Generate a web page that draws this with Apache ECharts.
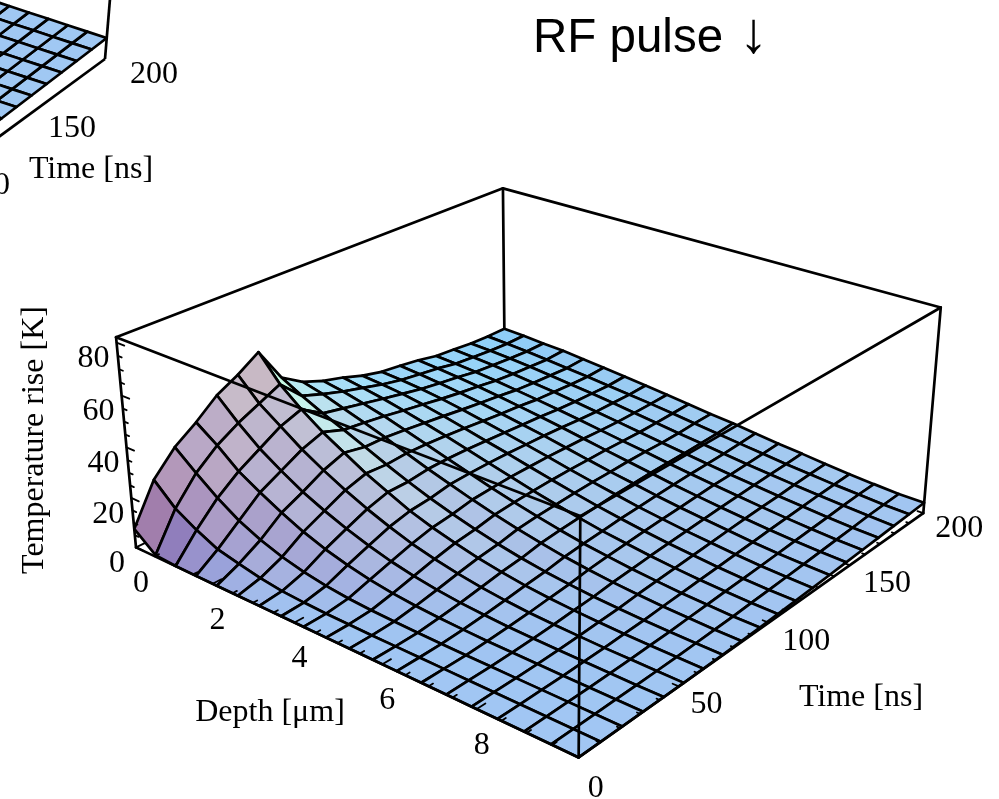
<!DOCTYPE html>
<html><head><meta charset="utf-8">
<style>html,body{margin:0;padding:0;background:#fff}#c{width:999px;height:799px}</style>
<script src="https://cdn.jsdelivr.net/npm/echarts@6/dist/echarts.min.js"></script>
</head><body><div id="c"></div>
<script>
// ---- data ----
const depthMax = 10, timeMax = 200, tempMax = 82;
const depthTicks = [0, 2, 4, 6, 8];
const timeTicks = [0, 50, 100, 150, 200];
const tempTicks = [0, 20, 40, 60, 80];
// rows: time steps (0..200 ns, 19 cells); columns: depth steps (0..10 um, 19 cells)
const temperature = [
 [7.5,.6,.1,0,0,0,0,0,0,0,0,0,0,0,0,0,0,0,0,0],
 [23,15,10,6,4,2.2,1,.5,.2,.1,0,0,0,0,0,0,0,0,0,0],
 [32,25,18.5,13,9,6,3.8,2.3,1.3,.7,.4,.2,.1,0,0,0,0,0,0,0],
 [38,32,25,20,15.5,11.5,8.3,5.8,3.9,2.5,1.6,1,.6,.3,.2,.1,0,0,0,0],
 [45,37,30,24.5,19.5,15.5,12,9,6.5,4.6,3.1,2,1.3,.8,.5,.3,.2,.1,0,0],
 [49.5,41,35,29,24,19.5,15.5,12,9,6.7,4.8,3.3,2.2,1.4,.9,.6,.3,.2,.1,0],
 [55,45,38,32,27,22,18,14,11,8.5,6.3,4.6,3.2,2.2,1.5,1,.6,.4,.2,.1],
 [41,36.5,32.5,29,25.3,21.5,18,14.8,12,9.5,7.3,5.5,4,2.9,2,1.4,.9,.6,.4,.2],
 [35.5,33.5,30.7,28,25.2,22,19,16.2,13.5,11.1,8.9,7,5.3,4,2.9,2.1,1.4,1,.6,.4],
 [32.2,30.8,28.9,26.8,24.3,21.7,19.1,16.5,14,11.7,9.6,7.7,6,4.7,3.5,2.6,1.8,1.3,.8,.6],
 [29.9,28.6,27.1,25.3,23.3,21.2,18.9,16.6,14.4,12.1,10.1,8.3,6.6,5.3,4.1,3.1,2.3,1.7,1.2,.9],
 [27,26.3,25.4,24,22.3,20.4,18.4,16.5,14.4,12.4,10.5,8.7,7.2,5.8,4.6,3.6,2.7,2,1.5,1.2],
 [25,24.5,23.7,22.6,21.2,19.6,17.9,16.2,14.4,12.5,10.8,9.2,7.6,6.3,5.1,4.1,3.2,2.4,1.9,1.5],
 [24,23.3,22.5,21.4,20.2,18.8,17.3,15.9,14.2,12.5,10.9,9.5,8,6.7,5.6,4.6,3.6,2.8,2.3,1.9],
 [22.8,22.2,21.4,20.4,19.3,18.1,16.8,15.5,14,12.5,11.1,9.7,8.3,7.1,6,5,4.1,3.3,2.7,2.3],
 [21.1,20.6,20,19.2,18.2,17.2,16.1,14.9,13.6,12.3,11.1,9.8,8.6,7.5,6.4,5.4,4.5,3.7,3.1,2.7],
 [20.4,19.9,19.3,18.5,17.6,16.7,15.6,14.5,13.3,12.1,10.9,9.8,8.7,7.6,6.7,5.7,4.9,4.1,3.5,3.1],
 [19.6,19.2,18.7,18,17.2,16.3,15.4,14.4,13.3,12.2,11,10,8.9,7.9,7,6.1,5.3,4.6,4,3.5],
 [19.3,18.9,18.3,17.6,16.8,16,15.1,14.3,13.4,12.4,11.3,10.2,9.2,8.2,7.2,6.4,5.5,4.9,4.2,3.9],
 [19.3,19,18.4,18,17.2,16.4,15.5,14.6,13.6,12.6,11.5,10.7,9.6,8.5,7.6,6.6,5.7,5,4.4,4.3]
];
// visible corner of the neighbouring (cropped) plot: last time rows, deepest columns
const cropTemperature = [
 [8.4,8.2,8,7.8,7.6,7.4,7.2],
 [8.2,8,7.8,7.6,7.4,7.2,7],
 [8,7.8,7.6,7.4,7.2,7,6.8],
 [7.8,7.6,7.4,7.2,7,6.8,6.6],
 [7.6,7.4,7.2,7,6.8,6.6,6.4],
 [7.4,7.2,7,6.8,6.6,6.4,6.2],
 [7.2,7,6.8,6.6,6.4,6.2,6],
 [7,6.8,6.6,6.4,6.2,6,5.8],
 [6.8,6.6,6.4,6.2,6,5.8,5.6],
 [6.6,6.4,6.2,6,5.8,5.6,5.4]
];
const timeLabelNudgeX = [0, 6, 11, 6, 0];
const timeLabelNudgeY = [0, -9, -5, -1, 0];
const tempLabelNudgeX = [4, 0, 0, 0, 0];

// ---- camera: perspective matrix fitted to where the box corners fall ----
const mainCamera = [
 [0,0,0,136,547],[1,0,0,579,758],[1,1,0,923,513],
 [0,0,1,116,338],[1,0,1,580,515],[1,1,1,941,308],[0,1,1,503,188]
];
const cropCamera = [
 [0,0,0,-550,137],[1,0,0,-180,268],[1,1,0,105,59],[0,1,0,-265,-72],
 [0,0,1,-533,-68],[1,0,1,-163,63],[1,1,1,122,-146],[0,1,1,-248,-277]
];
function fitCamera(pts){
  const n=11, A=Array.from({length:n},()=>new Array(n+1).fill(0));
  const add=(r,b)=>{for(let i=0;i<n;i++){for(let j=0;j<n;j++)A[i][j]+=r[i]*r[j];A[i][n]+=r[i]*b;}};
  pts.forEach(([X,Y,Z,x0,y0])=>{const x=x0/1000,y=y0/1000;
    add([X,Y,Z,1,0,0,0,0,-x*X,-x*Y,-x*Z],x);
    add([0,0,0,0,X,Y,Z,1,-y*X,-y*Y,-y*Z],y);});
  for(let c=0;c<n;c++){let p=c;for(let r=c+1;r<n;r++)if(Math.abs(A[r][c])>Math.abs(A[p][c]))p=r;
    [A[c],A[p]]=[A[p],A[c]];
    for(let r=0;r<n;r++)if(r!==c){const f=A[r][c]/A[c][c];for(let k=c;k<=n;k++)A[r][k]-=f*A[c][k];}}
  const m=A.map((row,i)=>row[n]/row[i]);
  return (X,Y,Z)=>{const w=m[8]*X+m[9]*Y+m[10]*Z+1;
    return [1000*(m[0]*X+m[1]*Y+m[2]*Z+m[3])/w,1000*(m[4]*X+m[5]*Y+m[6]*Z+m[7])/w];};
}
const projMain=fitCamera(mainCamera), projCrop=fitCamera(cropCamera);
const P=(d,t,T)=>projMain(d/depthMax,t/timeMax,T/tempMax);
const cols=temperature[0].length, rows=temperature.length;
const dAt=j=>j*depthMax/(cols-1), tAt=i=>i*timeMax/(rows-1);

// ---- Mathematica-style three coloured lights, in viewer coordinates ----
const azim=38*Math.PI/180, elev=63*Math.PI/180, slopeScale=0.26, slopeSoft=0.75;
function shade(nd,nt,nz,w){
  const L=Math.hypot(nd,nt,nz);nd/=L;nt/=L;nz/=L;
  const R=nd*Math.cos(azim)+nt*Math.sin(azim), H=nd*Math.sin(azim)-nt*Math.cos(azim);
  const x=R, y=nz*Math.cos(elev)-H*Math.sin(elev), z=nz*Math.sin(elev)+H*Math.cos(elev);
  const c=v=>Math.round(Math.max(0,Math.min(255,v)));
  return `rgb(${c(255*(x+z)/Math.SQRT2-24*w)},${c(255*(x+y+z)/Math.sqrt(3)+6*w)},${c(255*(y+z)/Math.SQRT2+6*w)})`;
}
function cellColor(tbl,i,j){
  const a=tbl[i][j],b=tbl[i][j+1],c=tbl[i+1][j+1],e=tbl[i+1][j];
  let dd=((b-a)+(c-e))/2*(cols-1)/tempMax*slopeScale;
  let dt=((e-a)+(c-b))/2*(rows-1)/tempMax*slopeScale;
  const soft=1+slopeSoft*Math.hypot(dd,dt);dd/=soft;dt/=soft;
  return shade(-dd,-dt,1,(1-j/(cols-1))*(i/(rows-1)));
}

// ---- draw lists ----
const surfaceCells=[];
for(let i=rows-2;i>=0;i--)for(let j=0;j<cols-1;j++)surfaceCells.push([i,j]);
const cropCells=[];
for(let i=0;i<cropTemperature.length-1;i++)for(let j=0;j<cropTemperature[0].length-1;j++)cropCells.push([i,j]);

const C={D:depthMax,T:timeMax,Z:tempMax};
const backEdges=[
 [[0,0,C.Z],[0,C.T,C.Z]],[[0,C.T,C.Z],[C.D,C.T,C.Z]],[[0,C.T,C.Z],[0,C.T,0]],
 [[0,0,0],[0,0,C.Z]],[[C.D,C.T,0],[C.D,C.T,C.Z]]
];
const frontEdges=[
 [[0,0,C.Z],[C.D,0,C.Z]],[[C.D,0,C.Z],[C.D,C.T,C.Z]],[[C.D,0,C.Z],[C.D,0,0]],
 [[0,0,0],[C.D,0,0]],[[C.D,0,0],[C.D,C.T,0]]
];
const tickSegs=[];
for(let d=0;d<=depthMax;d+=.5){const big=d%2===0;tickSegs.push([[d,0,0],[d,big?4:2,0]]);}
for(let t=0;t<=timeMax;t+=10){const big=t%50===0;tickSegs.push([[C.D,t,0],[C.D-(big?.12:.06),t,0]]);}
for(let z=0;z<=80;z+=5){const big=z%20===0;tickSegs.push([[0,0,z],[big?.2:.1,0,z]]);}

const serif='"Liberation Serif"';
const textItems=[];
depthTicks.forEach(d=>{const p=P(d,0,0);textItems.push([String(d),p[0]+5,p[1]+35,0]);});
timeTicks.forEach((t,k)=>{const p=P(depthMax,t,0);textItems.push([String(t),p[0]+17+19*t/200+timeLabelNudgeX[k],p[1]+30-16*t/200+timeLabelNudgeY[k],0]);});
tempTicks.forEach((z,k)=>{const p=P(0,0,z);textItems.push([String(z),p[0]-23+tempLabelNudgeX[k],p[1]+15,0]);});
textItems.push(['Depth [\u03bcm]',270,711,0],['Time [ns]',861,696,0],['Temperature rise [K]',35,440,Math.PI/2]);
textItems.push(['200',154,73,0],['150',72,127,0],['Time [ns]',91,168,0],['0',2,184,0]);

function lineSeries(name,segs,z,width){
  return {type:'custom',name,silent:true,z,clip:false,coordinateSystem:'cartesian2d',data:segs.map((s,i)=>[i]),
    renderItem:(p,api)=>{const s=segs[api.value(0)];
      return {type:'line',shape:{x1:api.coord(P(...s[0]))[0],y1:api.coord(P(...s[0]))[1],x2:api.coord(P(...s[1]))[0],y2:api.coord(P(...s[1]))[1]},
        style:{stroke:'#000',lineWidth:width,lineCap:'round'}};}};
}
const option={
  animation:false,
  title:{text:'{t|RF pulse }{a|\u2193}',left:533,top:7,padding:0,
    textStyle:{rich:{t:{fontFamily:'"Liberation Sans"',fontWeight:'normal',fontSize:47.5,color:'#000'},a:{fontFamily:'"Liberation Sans"',fontWeight:'normal',fontSize:58,color:'#000',padding:[0,0,6,3]}}}},
  grid:{left:0,right:0,top:0,bottom:0},
  xAxis:{type:'value',min:0,max:999,show:false},
  yAxis:{type:'value',min:0,max:799,inverse:true,show:false},
  series:[
    {type:'custom',name:'Neighbouring plot',silent:true,z:1,clip:true,data:cropCells,
     renderItem:(p,api)=>{const i=api.value(0),j=api.value(1);
       const Q=(a,b)=>api.coord(projCrop(1-b/19,1-a/19,cropTemperature[a][b]/tempMax));
       return {type:'polygon',shape:{points:[Q(i,j),Q(i,j+1),Q(i+1,j+1),Q(i+1,j)]},
         style:{fill:'rgb(160,200,243)',stroke:'#000',lineWidth:2.7,lineJoin:'round'}};}},
    {type:'custom',name:'Neighbouring box',silent:true,z:2,clip:true,data:[[0],[1]],
     renderItem:(p,api)=>{const k=api.value(0);
       const a=api.coord(projCrop(1,1,0)), b=k?api.coord(projCrop(1,1,1)):api.coord(projCrop(1,0,0));
       return {type:'line',shape:{x1:a[0],y1:a[1],x2:b[0],y2:b[1]},style:{stroke:'#000',lineWidth:2.7}};}},
    lineSeries('Box back',backEdges,3,2.7),
    {type:'custom',name:'Temperature rise',silent:true,z:4,clip:false,data:surfaceCells,
     renderItem:(p,api)=>{const i=api.value(0),j=api.value(1);
       const Q=(a,b)=>api.coord(P(dAt(b),tAt(a),temperature[a][b]));
       return {type:'polygon',shape:{points:[Q(i,j),Q(i,j+1),Q(i+1,j+1),Q(i+1,j)]},
         style:{fill:cellColor(temperature,i,j),stroke:'#000',lineWidth:2.7,lineJoin:'round'}};}},
    lineSeries('Box front',frontEdges,5,2.7),
    lineSeries('Ticks',tickSegs,5,1.8),
    {type:'custom',name:'Labels',silent:true,z:6,clip:false,data:textItems.map((t,i)=>[i]),
     renderItem:(p,api)=>{const t=textItems[api.value(0)],c=api.coord([t[1],t[2]+(t[3]?0:1.5)]);
       return {type:'text',x:c[0],y:c[1],rotation:t[3],
         style:{text:t[0],fill:'#000',font:'32px '+serif,textAlign:'center',textVerticalAlign:'middle'}};}}
  ]
};
echarts.init(document.getElementById('c'),null,{renderer:'canvas'}).setOption(option);
</script></body></html>
